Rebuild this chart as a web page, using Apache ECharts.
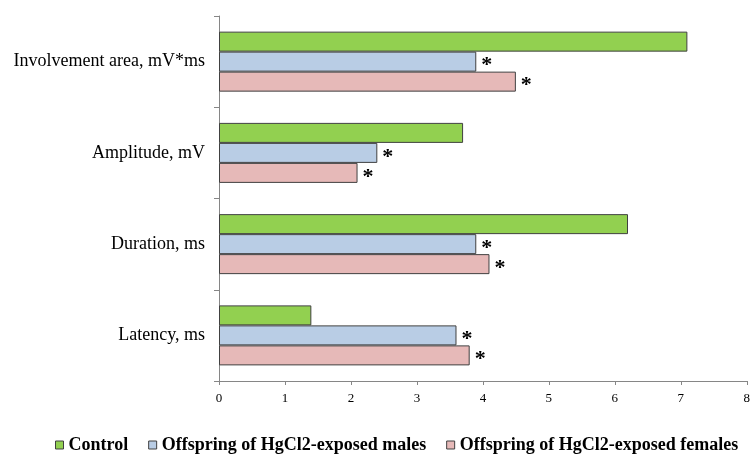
<!DOCTYPE html>
<html>
<head>
<meta charset="utf-8">
<script src="https://cdn.jsdelivr.net/npm/echarts@6/dist/echarts.min.js"></script>
<style>
  html, body { margin: 0; padding: 0; background: #fff; }
  #chart { width: 753px; height: 459px; }
</style>
</head>
<body>
<div id="chart"></div>
<script>
// categories top to bottom
var categories = ["Involvement area, mV*ms", "Amplitude, mV", "Duration, ms", "Latency, ms"];
var controlVals = [7.1, 3.7, 6.2, 1.4];
var malesVals = [3.9, 2.4, 3.9, 3.6];
var femalesVals = [4.5, 2.1, 4.1, 3.8];
var seriesNames = ["Control", "Offspring of HgCl2-exposed males", "Offspring of HgCl2-exposed females"];
var colors = ["#92d050", "#b9cde5", "#e6b9b8"];

var myChart = echarts.init(document.getElementById("chart"));

function makeSeries(name, data, color, star) {
  return {
    name: name,
    type: "bar",
    data: data,
    barWidth: 20,
    barGap: "0%",
    itemStyle: { color: color, borderColor: "#404040", borderWidth: 1 },
    label: {
      show: star,
      position: "right",
      distance: 5,
      formatter: "*",
      color: "#000",
      fontFamily: "Liberation Serif",
      fontWeight: "bold",
      fontSize: 22,
      offset: [0, 4]
    }
  };
}

var option = {
  animation: false,
  grid: { left: 219, right: 2, top: 16, bottom: 78, containLabel: false },
  legend: {
    data: seriesNames,
    bottom: 0,
    left: 50,
    itemWidth: 8,
    itemHeight: 8,
    itemGap: 20,
    icon: "rect",
    itemStyle: { borderColor: "#404040", borderWidth: 1 },
    textStyle: {
      fontFamily: "Liberation Serif",
      fontWeight: "bold",
      fontSize: 18,
      color: "#000"
    }
  },
  xAxis: {
    type: "value",
    min: 0,
    max: 8,
    interval: 1,
    splitLine: { show: false },
    axisLine: { show: true, lineStyle: { color: "#868686" } },
    axisTick: { show: true, length: 4, lineStyle: { color: "#868686" } },
    axisLabel: { fontFamily: "Liberation Serif", fontSize: 13, color: "#000", margin: 11 }
  },
  yAxis: {
    type: "category",
    inverse: true,
    data: categories,
    axisLine: { show: true, lineStyle: { color: "#868686" } },
    axisTick: { show: true, length: 5, lineStyle: { color: "#868686" } },
    axisLabel: { fontFamily: "Liberation Serif", fontSize: 18, color: "#000", margin: 14 }
  },
  series: [
    makeSeries(seriesNames[0], controlVals, colors[0], false),
    makeSeries(seriesNames[1], malesVals, colors[1], true),
    makeSeries(seriesNames[2], femalesVals, colors[2], true)
  ]
};

myChart.setOption(option);
window.onresize = myChart.resize;
</script>
</body>
</html>
